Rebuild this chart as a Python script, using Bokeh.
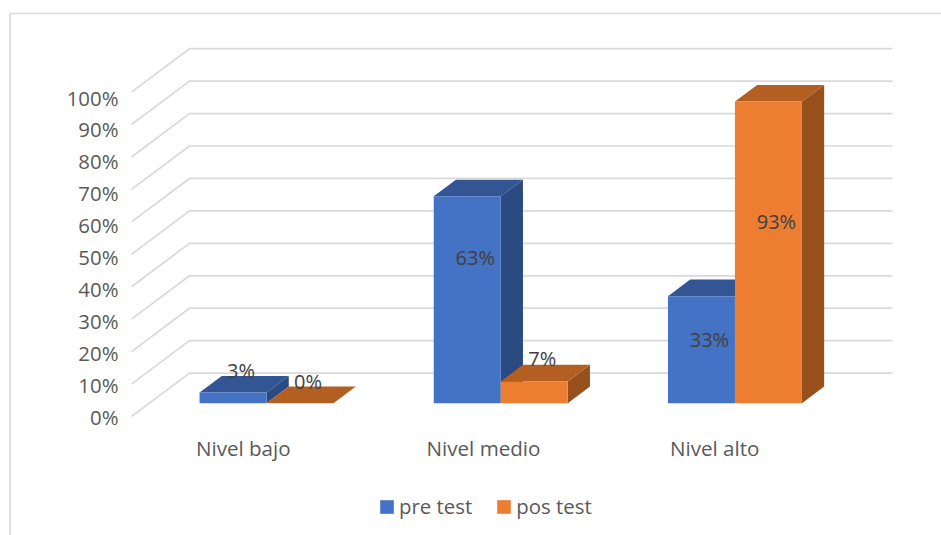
from bokeh.plotting import figure
from bokeh.embed import file_html
from bokeh.resources import INLINE
from bokeh.core.properties import value
from bokeh.models import (Range1d, FixedTicker, CustomJSTickFormatter, PrintfTickFormatter,
                          Legend, LegendItem, ColumnDataSource)

# ---- data ----
categories = ["Nivel bajo", "Nivel medio", "Nivel alto"]
pre_test = [3.3, 63.8, 33.0]
pos_test = [0.0, 6.7, 93.0]
pre_labels = ["3%", "63%", "33%"]
pos_labels = ["0%", "7%", "93%"]
y_ticks = [0, 10, 20, 30, 40, 50, 60, 70, 80, 90, 100]

# ---- layout (window pixels) ----
W, H = 941, 535
X_CAT0 = 248.3       # window x of first category on the front plane
PX_PER_CAT = 234.2
Y_FLOOR = 416.0      # window y of 0 % on the front plane
PX_PER_PCT = 3.244
TICK_Y0, TICK_PX_PER_PCT = 416.0, 3.19   # tick labels sit slightly tighter than the gridlines
WALL_DX, WALL_DY = 58.0, 43.4
WALL_LEFT, WALL_RIGHT = 131.0, 834.0   # front-plane extent of the walls
BAR_FRONT = 0.306    # depth fraction of bar front faces
BAR_BACK = 0.689     # depth fraction of bar back faces
BAR_W = 67.0 / PX_PER_CAT
FONT = value("Open Sans")
CAT_LABEL_NUDGE_PX = [-5.5, 0.5, -2.5]
PRE_LABEL_SHIFT_PX = [-22, 61, 43]
POS_LABEL_SHIFT_PX = [-22, -23, 120]
LABEL_DX_PX = 8

def X(px):
    return (px - X_CAT0) / PX_PER_CAT
def Y(px):
    return (Y_FLOOR - px) / PX_PER_PCT

DDX = WALL_DX / PX_PER_CAT   # full depth in x data units
DDY = WALL_DY / PX_PER_PCT   # full depth in y data units

p = figure(width=W, height=H, output_backend="svg", toolbar_location=None,
           x_range=Range1d(X(0), X(W)), y_range=Range1d(Y(H), Y(0)),
           min_border=0, min_border_left=0, min_border_right=0, min_border_top=0, min_border_bottom=0)
p.extra_y_ranges = {"ticks": Range1d((TICK_Y0 - H) / TICK_PX_PER_PCT, TICK_Y0 / TICK_PX_PER_PCT)}
p.outline_line_color = None
p.background_fill_color = "white"
p.border_fill_color = "white"
p.grid.visible = False

# chart frame
p.segment(x0=[X(9.5), X(9.5)], y0=[Y(13), Y(13)], x1=[X(9.5), X(W)], y1=[Y(H), Y(13)],
          line_color="#d9d9d9", line_width=1.6)

# gridlines: front-left -> back-left -> back-right
xl, xr = X(WALL_LEFT), X(WALL_RIGHT)
p.multi_line(xs=[[xl, xl + DDX, xr + DDX] for _ in y_ticks],
             ys=[[t, t + DDY, t + DDY] for t in y_ticks],
             line_color="#d9d9d9", line_width=1.7)

fx, fy = BAR_FRONT * DDX, BAR_FRONT * DDY
bx, by = BAR_BACK * DDX, BAR_BACK * DDY

def box(x0, x1, h, front, top, side):
    p.patch([x1 + fx, x1 + bx, x1 + bx, x1 + fx], [fy, by, h + by, h + fy], fill_color=side, line_color=None)
    p.patch([x0 + fx, x1 + fx, x1 + bx, x0 + bx], [h + fy, h + fy, h + by, h + by], fill_color=top, line_color=None)
    return p.quad(left=[x0 + fx], right=[x1 + fx], bottom=[fy], top=[h + fy], fill_color=front, line_color=None)

r_pre, r_pos = None, None
for i in range(len(categories)):
    a = box(i - BAR_W, i, pre_test[i], "#4472C4", "#335593", "#2B4A82")
    b = box(i, i + BAR_W, pos_test[i], "#ED7D31", "#B45F22", "#974F1B")
    r_pre = r_pre or a
    r_pos = r_pos or b

# data labels
lab_x, lab_y, lab_t = [], [], []
for i in range(3):
    lab_x.append(i - BAR_W / 2 + fx + LABEL_DX_PX / PX_PER_CAT)
    lab_y.append(pre_test[i] + fy - PRE_LABEL_SHIFT_PX[i] / PX_PER_PCT)
    lab_t.append(pre_labels[i])
    lab_x.append(i + BAR_W / 2 + fx + LABEL_DX_PX / PX_PER_CAT)
    lab_y.append(pos_test[i] + fy - POS_LABEL_SHIFT_PX[i] / PX_PER_PCT)
    lab_t.append(pos_labels[i])
p.text(x="x", y="y", text="t", source=ColumnDataSource(dict(x=lab_x, y=lab_y, t=lab_t)),
       text_font=FONT, text_font_size="20px", text_color="#404040",
       text_align="center", text_baseline="middle")

# axes, pinned inside the frame
p.yaxis.fixed_location = xl
p.yaxis.y_range_name = "ticks"
p.yaxis.ticker = FixedTicker(ticks=y_ticks)
p.yaxis.formatter = PrintfTickFormatter(format="%d%%")
p.yaxis.major_label_standoff = 7
p.xaxis.fixed_location = 0
p.xaxis.ticker = FixedTicker(ticks=[i + CAT_LABEL_NUDGE_PX[i] / PX_PER_CAT for i in range(3)])
p.xaxis.formatter = CustomJSTickFormatter(args=dict(labels=categories), code="return labels[index]")
p.xaxis.major_label_standoff = 11
for ax, size in ((p.xaxis[0], "20.6px"), (p.yaxis[0], "20.4px")):
    ax.axis_line_color = None
    ax.major_tick_line_color = None
    ax.minor_tick_line_color = None
    ax.major_label_text_font = "Open Sans"
    ax.major_label_text_font_size = size
    ax.major_label_text_color = "#595959"

legend = Legend(items=[LegendItem(label="pre test", renderers=[r_pre]),
                       LegendItem(label="pos test", renderers=[r_pos])],
                orientation="horizontal", location=(378, H - 520),
                glyph_width=17, glyph_height=17, label_standoff=4, spacing=23,
                padding=0, margin=0, border_line_color=None, background_fill_alpha=0,
                label_text_font="Open Sans", label_text_font_size="20.4px", label_text_color="#595959")
p.add_layout(legend)

open("out.html", "w").write(file_html(p, INLINE))
